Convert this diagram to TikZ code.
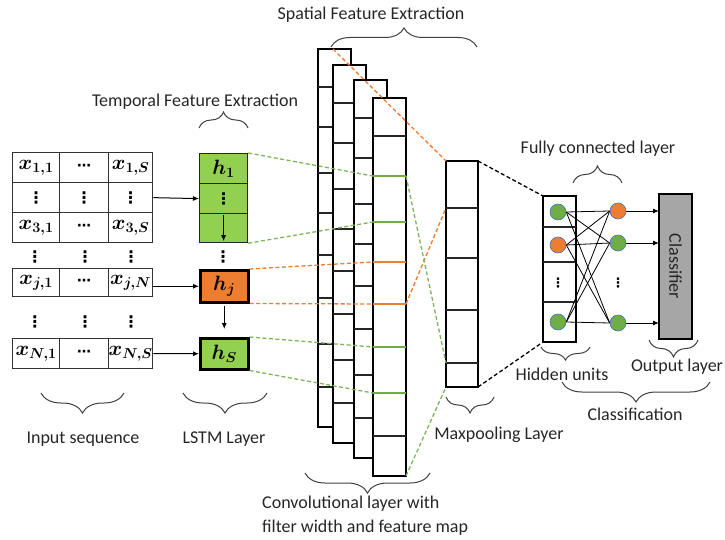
\documentclass[tikz,border=0pt]{standalone}
\usepackage{amsmath,amssymb}
\usepackage{fontspec}
\setmainfont{Carlito}
\newfontfamily\dotsfont{DejaVu Sans}
\usepackage{tikz}
\usetikzlibrary{arrows.meta,positioning,calc,decorations.pathreplacing}
\definecolor{lstmgreen}{HTML}{92D050}
\definecolor{linegreen}{HTML}{70AD47}
\definecolor{lineorange}{HTML}{ED7D31}
\definecolor{unitblue}{HTML}{4472C4}
\definecolor{clsgray}{HTML}{A6A6A6}
\tikzstyle{cell}=[draw=black!80,line width=1.3pt,minimum height=30pt,inner sep=0pt,anchor=north west,font=\fontsize{20}{22}\selectfont]
\tikzstyle{lstm}=[draw=black!85,fill=lstmgreen,line width=1.2pt,minimum width=48pt,minimum height=30pt,inner sep=0pt,anchor=north west,font=\fontsize{20}{22}\selectfont]
\tikzstyle{convcol}=[draw=black,fill=white,line width=2.8pt,minimum width=33pt,minimum height=378pt,inner sep=0pt,outer sep=0pt,anchor=north west]
\tikzstyle{convline}=[draw=black!85,line width=2pt]
\tikzstyle{unit}=[circle,draw=unitblue,line width=0.6pt,minimum size=16pt,inner sep=0pt]
\tikzstyle{lbl}=[font=\fontsize{18}{24}\selectfont,text=black!85]
\tikzstyle{vdot}=[font=\fontsize{16}{16}\dotsfont\bfseries,inner sep=0pt]
\tikzstyle{arr}=[-{Latex[length=6pt,width=5pt]},line width=1pt]
\tikzstyle{gdash}=[dash pattern=on 4pt off 2.5pt,line width=1.3pt,linegreen!90]
\tikzstyle{odash}=[dash pattern=on 4pt off 2.5pt,line width=1.3pt,lineorange]
\tikzstyle{kdash}=[dash pattern=on 4pt off 2.5pt,line width=1.3pt,black]
\tikzset{brc/.style={decorate,decoration={brace,amplitude=#1},line width=1pt,black!75}}
\newcommand{\bx}[1]{$\boldsymbol{#1}$}
\newcommand{\hdt}{{\fontsize{14}{14}\dotsfont\bfseries ⋯}}
\newcommand{\vdt}{{\fontsize{16}{16}\dotsfont\bfseries ⋮}}

\begin{document}
\begin{tikzpicture}[x=1pt,y=-1pt]
\useasboundingbox (0,0) rectangle (725,540);

% input sequence
\node[cell,minimum width=47pt] (x11) at (12,152) {\bx{x_{1,1}}};
\node[cell,minimum width=49pt] (x12) at (59,152) {\hdt};
\node[cell,minimum width=44pt] (x13) at (108,152) {\bx{x_{1,S}}};
\node[cell,minimum width=47pt] (xd1) at (12,182) {\vdt};
\node[cell,minimum width=49pt] (xd2) at (59,182) {\vdt};
\node[cell,minimum width=44pt] (xd3) at (108,182) {\vdt};
\node[cell,minimum width=47pt] (x31) at (12,212) {\bx{x_{3,1}}};
\node[cell,minimum width=49pt] (x32) at (59,212) {\hdt};
\node[cell,minimum width=44pt] (x33) at (108,212) {\bx{x_{3,S}}};
\node[vdot] (xv1) at (35,257) {⋮};
\node[vdot] (xv2) at (85,257) {⋮};
\node[vdot] (xv3) at (131,257) {⋮};
\node[cell,minimum width=47pt,minimum height=28pt] (xj1) at (12,268) {\bx{x_{j,1}}};
\node[cell,minimum width=49pt,minimum height=28pt] (xj2) at (59,268) {\hdt};
\node[cell,minimum width=44pt,minimum height=28pt] (xj3) at (108,268) {\bx{x_{j,N}}};
\node[vdot] (xw1) at (35,322) {⋮};
\node[vdot] (xw2) at (85,322) {⋮};
\node[vdot] (xw3) at (131,322) {⋮};
\node[cell,minimum width=47pt] (xN1) at (12,338) {\bx{x_{N,1}}};
\node[cell,minimum width=49pt] (xN2) at (59,338) {\hdt};
\node[cell,minimum width=44pt] (xN3) at (108,338) {\bx{x_{N,S}}};

% LSTM layer
\node[lstm] (h1) at (199,153) {\bx{h_1}};
\node[lstm] (hd) at (199,183) {\vdt};
\node[lstm,minimum height=29pt] (hl) at (199,213) {};
\node[vdot] (hv) at (223,257) {⋮};
\node[lstm,fill=lineorange,draw=black,line width=2.5pt,minimum height=32pt] (hj) at (199,269) {\bx{h_j}};
\node[lstm,draw=black,line width=2.5pt,minimum height=31pt] (hS) at (199,337) {\bx{h_S}};
\draw[arr,shorten <=2pt,shorten >=2pt] (hl.north) -- (hl.south);
\draw[arr,shorten <=2pt,shorten >=8pt] (hj) -- (hS);

\draw[arr] (xd3.east) -- (hd.west);
\draw[arr] (hj.west -| xj3.east) -- (hj.west);
\draw[arr] (xN3.east) -- (hS.west);

% convolutional layer
\foreach \i/\l/\t in {1/318/49,2/333/65,3/354/80,4/373/98}{
  \node[convcol] (conv\i) at (\l,\t) {};
  \foreach \o [count=\k] in {38,78,124,164,206,249,295,338}
    \draw[convline] ($(conv\i.north west)+(0,\o)$) coordinate (c\i-l\k) -- ++(33,0) coordinate (c\i-r\k);
}
\foreach \k/\c in {2/linegreen,3/linegreen,4/lineorange,5/lineorange,6/linegreen,7/linegreen}
  \draw[\c,line width=2pt] (c4-l\k) -- (c4-r\k);

% maxpooling layer
\node[convcol,line width=2.6pt,minimum width=32pt,minimum height=226pt] (pool) at (446,161) {};
\foreach \o [count=\k] in {47,97,149,202}
  \draw[convline,line width=1.8pt] ($(pool.north west)+(0,\o)$) coordinate (p-l\k) -- ++(32,0);

% fully connected layer
\node[convcol,line width=2.5pt,minimum height=146pt] (hid) at (543,196) {};
\foreach \o in {31,66,106}
  \draw[convline,line width=1.8pt] ($(hid.north west)+(0,\o)$) -- ++(33,0);
\node[unit,fill=linegreen] (hu1) at (558,212) {};
\node[unit,fill=lineorange] (hu2) at (558,245) {};
\node[vdot,font=\fontsize{13}{13}\dotsfont\bfseries] (hud) at (558,283) {⋮};
\node[unit,fill=linegreen] (hu3) at (558,322) {};
\node[unit,fill=lineorange] (ou1) at (618,211) {};
\node[unit,fill=linegreen] (ou2) at (618,243) {};
\node[vdot,font=\fontsize{13}{13}\dotsfont\bfseries] (oud) at (618,283) {⋮};
\node[unit,fill=linegreen] (ou3) at (618,323) {};
\foreach \a in {1,2,3}
  \foreach \b in {1,2,3}
    \draw[line width=0.8pt] (hu\a.east) -- (ou\b.west);

\node[convcol,fill=clsgray,line width=2.5pt,minimum height=145pt] (cls) at (659,194) {};
\node[rotate=-90,font=\fontsize{18}{18}\selectfont,text=black!85] (clstext) at (cls.center) {Classifier};
\foreach \b in {1,2,3}
  \draw[arr] (ou\b.east) -- (ou\b.east -| cls.west);

% dashed links
\draw[gdash] (h1.north east) -- (c4-l2);
\draw[gdash] (hl.south east) -- (c4-l3);
\draw[odash] (hj.north east) -- (c4-l4);
\draw[odash] (hj.south east) -- (c4-l5);
\draw[gdash] (hS.north east) -- (c4-l6);
\draw[gdash] (hS.south east) -- (c4-l7);
\coordinate (c1top) at (conv2.west |- conv1.north);
\draw[odash] (c1top) -- (pool.north west);
\draw[odash] (c4-r5) -- (p-l1);
\draw[gdash] (c4-r2) -- (p-l4);
\draw[gdash] (conv4.south east) -- (pool.south west);
\draw[kdash] (pool.north east) -- (hid.north west);
\draw[kdash] (pool.south east) -- (hid.south west);

% braces (y upwards here)
\begin{scope}[y=1pt]
\draw[brc=19pt] (331,-47) -- (477,-47);
\draw[brc=16pt] (199,-128) -- (248,-128);
\draw[brc=17pt] (573,-183) -- (622,-183);
\draw[brc=20pt] (124,-393) -- (41,-393);
\draw[brc=20pt] (267,-393) -- (183,-393);
\draw[brc=20pt] (430,-473) -- (305,-473);
\draw[brc=16pt] (494,-397) -- (446,-397);
\draw[brc=13pt] (590,-347) -- (541,-347);
\draw[brc=17pt] (698,-340) -- (649,-340);
\draw[brc=20pt] (710,-382) -- (562,-382);
\end{scope}

% labels
\node[lbl] (spatial) at (371,15) {Spatial Feature Extraction};
\node[lbl] (temporal) at (195,102) {Temporal Feature Extraction};
\node[lbl] (fclabel) at (598,149) {Fully connected layer};
\node[lbl] (inlabel) at (83,439) {Input sequence};
\node[lbl] (lstmlabel) at (224,439) {LSTM Layer};
\node[lbl,align=left,anchor=north west,inner sep=0pt] (convlabel) at (262,496) {Convolutional layer with\\filter width and feature map};
\node[lbl] (poollabel) at (499,435) {Maxpooling Layer};
\node[lbl] (hidlabel) at (562,374) {Hidden units};
\node[lbl] (outlabel) at (677,367) {Output layer};
\node[lbl] (clslabel) at (635,414) {Classification};
\end{tikzpicture}
\end{document}
